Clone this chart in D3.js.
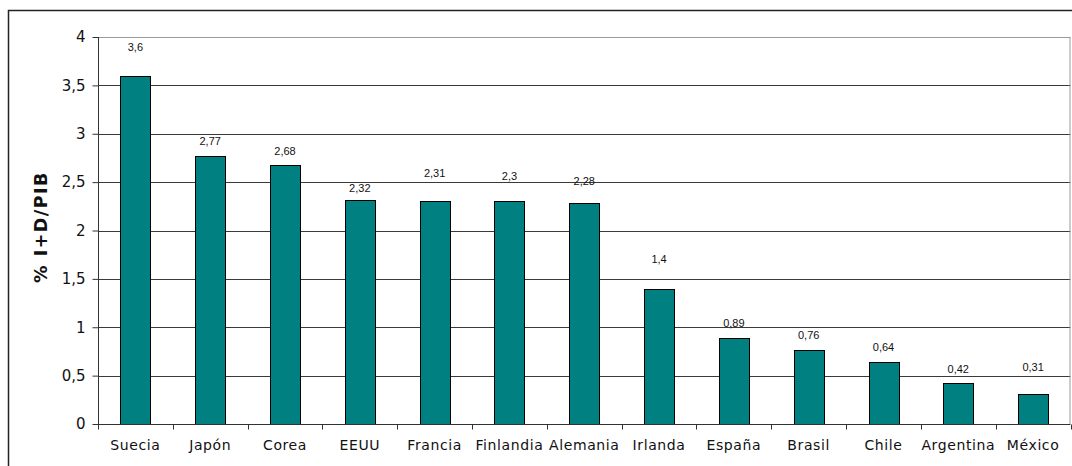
<!DOCTYPE html>
<html>
<head>
<meta charset="utf-8">
<script src="https://cdn.jsdelivr.net/npm/d3@7"></script>
<style>
  body { margin: 0; background: #fff; }
  svg { display: block; }
</style>
</head>
<body>
<div id="chart"></div>
<script>
// datos
const paises = ["Suecia", "Japón", "Corea", "EEUU", "Francia", "Finlandia", "Alemania",
                "Irlanda", "España", "Brasil", "Chile", "Argentina", "México"];
const valores = [3.6, 2.77, 2.68, 2.32, 2.31, 2.3, 2.28, 1.4, 0.89, 0.76, 0.64, 0.42, 0.31];
const yTicks = [0, 0.5, 1, 1.5, 2, 2.5, 3, 3.5, 4];

// separación de la etiqueta sobre la barra (px), como la coloca Excel
const labelLift = [29, 15, 14, 11, 27, 25, 22, 29, 15, 15, 15, 14, 27];

const W = 1072, H = 466;
const m = { left: 98, right: 1.5, top: 37, bottom: 42 };

const svg = d3.select("#chart").append("svg")
    .attr("width", W)
    .attr("height", H);

// marco exterior
svg.append("rect")
    .attr("x", 8.5).attr("y", 10.5)
    .attr("width", 1100).attr("height", 500)
    .attr("fill", "none")
    .attr("stroke", "#222")
    .attr("stroke-width", 1.5);

const x = d3.scaleBand()
    .domain(paises)
    .range([m.left, W - m.right])
    .paddingInner(0.6)
    .paddingOuter(0.3);

const y = d3.scaleLinear()
    .domain([0, 4])
    .range([H - m.bottom, m.top]);

const fmt = v => String(v).replace(".", ",");

// rejilla
svg.append("g")
    .selectAll("line")
    .data(yTicks.filter(t => t > 0))
    .join("line")
    .attr("x1", m.left).attr("x2", W - m.right)
    .attr("y1", d => Math.round(y(d)) + 0.5)
    .attr("y2", d => Math.round(y(d)) + 0.5)
    .attr("stroke", d => d === 4 ? "#9a9a9a" : "#3a3a3a")
    .attr("stroke-width", 1);

// borde derecho del área de trazado
svg.append("line")
    .attr("x1", W - m.right - 0.5).attr("x2", W - m.right - 0.5)
    .attr("y1", y(4)).attr("y2", y(0))
    .attr("stroke", "#9a9a9a");

// barras
svg.append("g")
    .selectAll("rect")
    .data(valores)
    .join("rect")
    .attr("x", (d, i) => Math.round(x(paises[i])) + 0.5)
    .attr("y", d => Math.round(y(d)) + 0.5)
    .attr("width", Math.round(x.bandwidth()))
    .attr("height", d => Math.round(y(0)) - Math.round(y(d)))
    .attr("fill", "#008080")
    .attr("stroke", "#000")
    .attr("stroke-width", 1);

// etiquetas de valores
svg.append("g")
    .selectAll("text")
    .data(valores)
    .join("text")
    .attr("x", (d, i) => x(paises[i]) + x.bandwidth() / 2)
    .attr("y", (d, i) => y(d) - labelLift[i])
    .attr("dy", "0.35em")
    .attr("text-anchor", "middle")
    .style("font-family", "'Liberation Sans', Arial, sans-serif")
    .style("font-size", "11px")
    .style("fill", "#111")
    .text(d => fmt(d));

// eje Y
const yAxis = svg.append("g")
    .attr("transform", `translate(${m.left + 0.5},0)`)
    .call(d3.axisLeft(y).tickValues(yTicks).tickSize(6).tickPadding(7).tickFormat(fmt));
yAxis.select(".domain").attr("stroke", "#333").attr("d", `M0,${y(4)}V${y(0)}`);
yAxis.selectAll(".tick line").attr("stroke", "#333");
yAxis.selectAll(".tick text")
    .style("font-family", "'DejaVu Sans', Verdana, sans-serif")
    .style("font-size", "15px")
    .style("fill", "#111");

// eje X
const xAxis = svg.append("g")
    .attr("transform", `translate(0,${Math.round(y(0)) + 0.5})`);
xAxis.append("line")
    .attr("x1", m.left).attr("x2", W - m.right)
    .attr("stroke", "#333");
xAxis.selectAll("line.tk")
    .data(d3.range(paises.length + 1))
    .join("line")
    .attr("class", "tk")
    .attr("x1", i => Math.round(m.left + i * (W - m.right - m.left) / paises.length) + 0.5)
    .attr("x2", i => Math.round(m.left + i * (W - m.right - m.left) / paises.length) + 0.5)
    .attr("y1", 0).attr("y2", 5)
    .attr("stroke", "#333");
xAxis.selectAll("text")
    .data(paises)
    .join("text")
    .attr("x", d => x(d) + x.bandwidth() / 2)
    .attr("y", 21)
    .attr("dy", "0.35em")
    .attr("text-anchor", "middle")
    .style("font-family", "'DejaVu Sans', Verdana, sans-serif")
    .style("font-size", "14px")
    .style("letter-spacing", "0.6px")
    .style("fill", "#111")
    .text(d => d);

// título eje Y
svg.append("text")
    .attr("transform", `translate(41,227) rotate(-90)`)
    .attr("text-anchor", "middle")
    .attr("dy", "0.35em")
    .style("font-family", "'DejaVu Sans', Verdana, sans-serif")
    .style("font-size", "17.5px")
    .style("font-weight", "bold")
    .style("letter-spacing", "1.5px")
    .style("fill", "#111")
    .text("% I+D/PIB");
</script>
</body>
</html>
